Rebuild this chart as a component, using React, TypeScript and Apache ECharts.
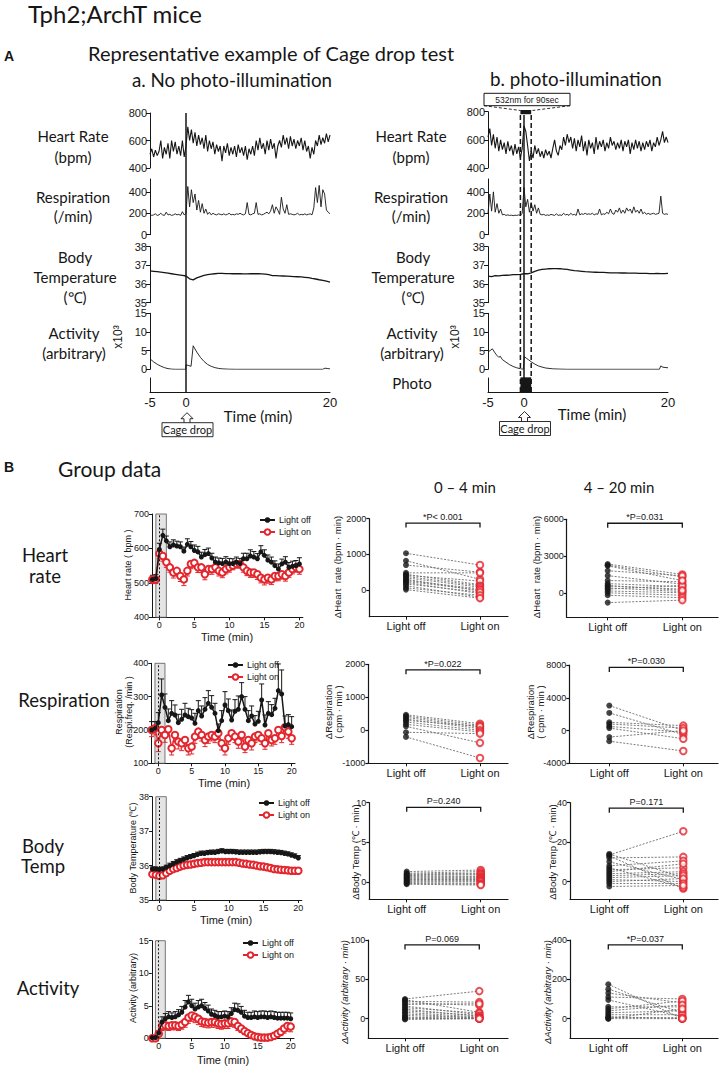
import React, { useEffect, useRef } from "react";
import * as echarts from "echarts";

// ---------------- Panel A : representative traces ----------------
const TRACE_START = -5; // min
const FAST_STEP = 0.25; // min between samples of HR / respiration
const SLOW_STEP = 0.5; // min between samples of temperature
const HR_NOLIGHT = [
  500, 540, 480, 530, 490, 520, 600, 470, 550, 500,
  580, 470, 600, 520, 590, 500, 560, 490, 600, 480,
  560, 700, 600, 680, 580, 660, 560, 640, 570, 620,
  540, 640, 520, 600, 540, 590, 500, 570, 520, 560,
  450, 560, 510, 580, 490, 550, 500, 560, 480, 570,
  510, 550, 490, 560, 460, 540, 500, 560, 490, 600,
  530, 620, 540, 580, 500, 600, 530, 610, 540, 580,
  470, 560, 600, 550, 640, 570, 620, 540, 630, 560,
  610, 540, 600, 560, 620, 530, 600, 520, 560, 470,
  550, 500, 600, 560, 640, 570, 620, 580, 650, 590,
  640,
];
const HR_LIGHT = [
  620, 680, 560, 640, 540, 620, 520, 600, 530, 580,
  500, 590, 520, 560, 490, 570, 500, 550, 470, 540,
  700, 660, 560, 450, 520, 470, 560, 500, 540, 480,
  520, 470, 530, 490, 520, 470, 540, 600, 520, 490,
  560, 530, 620, 560, 640, 580, 620, 540, 610, 520,
  600, 550, 630, 520, 590, 490, 600, 540, 580, 500,
  620, 530, 590, 550, 600, 520, 580, 540, 620, 560,
  590, 530, 580, 540, 600, 520, 590, 550, 600, 500,
  580, 530, 600, 540, 590, 520, 580, 530, 590, 550,
  600, 520, 580, 550, 620, 560, 600, 660, 580, 620,
  580,
];
const RESP_NOLIGHT = [
  190, 180, 185, 195, 180, 185, 200, 185, 180, 210,
  185, 190, 180, 185, 195, 185, 190, 180, 215, 185,
  200, 450, 260, 420, 300, 380, 230, 320, 210, 290,
  200, 240, 190, 210, 185, 200, 190, 185, 195, 190,
  185, 195, 185, 190, 200, 185, 190, 185, 195, 190,
  200, 190, 185, 195, 300, 190, 185, 195, 200, 300,
  190, 195, 185, 190, 200, 210, 195, 220, 280, 200,
  260, 230, 190, 350, 240, 200, 280, 190, 195, 190,
  185, 190, 200, 185, 190, 185, 195, 185, 190, 195,
  185, 250, 440, 300, 460, 260, 420, 380, 230, 210,
  195,
];
const RESP_LIGHT = [
  200, 380, 220, 400, 210, 290, 200, 240, 185, 190,
  180, 185, 180, 182, 178, 182, 180, 185, 180, 200,
  440, 260, 330, 210, 300, 220, 280, 200, 250, 190,
  185, 190, 180, 185, 180, 190, 185, 180, 195, 180,
  185, 180, 200, 185, 190, 180, 200, 185, 190, 180,
  240, 185, 195, 190, 200, 190, 195, 190, 200, 185,
  195, 190, 240, 185, 195, 190, 210, 195, 240, 200,
  190, 230, 210, 250, 200, 230, 200, 250, 220, 240,
  200, 260, 210, 230, 200, 240, 195, 210, 190, 200,
  190, 195, 200, 190, 195, 200, 360, 200, 190, 195,
  190,
];
const TEMP_NOLIGHT = [
  36.7, 36.68, 36.66, 36.64, 36.61, 36.58, 36.55, 36.52, 36.49, 36.46,
  36.43, 36.28, 36.22, 36.33, 36.4, 36.46, 36.5, 36.53, 36.55, 36.57, 36.57,
  36.56, 36.56, 36.55, 36.55, 36.55, 36.54, 36.54, 36.55, 36.55, 36.55,
  36.54, 36.53, 36.5, 36.45, 36.45, 36.44, 36.43, 36.42, 36.41, 36.4,
  36.39, 36.38, 36.36, 36.34, 36.3, 36.27, 36.23, 36.2, 36.15, 36.1,
];
const TEMP_LIGHT = [
  36.42, 36.4, 36.45, 36.44, 36.46, 36.47, 36.48, 36.5, 36.5, 36.52,
  36.55, 36.55, 36.6, 36.68, 36.74, 36.78, 36.8, 36.82, 36.83, 36.83, 36.82,
  36.8, 36.78, 36.75, 36.72, 36.7, 36.68, 36.66, 36.65, 36.64, 36.63,
  36.62, 36.62, 36.61, 36.6, 36.6, 36.6, 36.59, 36.59, 36.58, 36.58,
  36.58, 36.57, 36.57, 36.57, 36.56, 36.56, 36.57, 36.56, 36.56, 36.57,
];
// activity, x10^3, [time (min), value]
const ACT_NOLIGHT = [
  [-5, 2.8], [-4.5, 2.0], [-4, 1.35], [-3.5, 0.85], [-3, 0.45], [-2.5, 0.18], [-2, 0.05], [-1.5, 0],
  [-0.02, 0], [0, 1.2], [0.4, 1.0], [0.7, 0.8], [1.0, 6.3], [1.5, 4.6], [2, 3.2], [2.5, 2.1], [3, 1.3],
  [3.5, 0.8], [4, 0.45], [4.5, 0.25], [5, 0.12], [6, 0.03], [7, 0], [19, 0], [19.3, 0.3], [19.7, 0.2], [20, 0.1],
];
const ACT_LIGHT = [
  [-5, 4.7], [-4.7, 5.0], [-4.4, 5.5], [-4.1, 4.6], [-3.8, 3.8], [-3.5, 3.2], [-3.3, 3.5], [-3, 2.6],
  [-2.5, 1.9], [-2, 1.25], [-1.5, 0.75], [-1, 0.4], [-0.5, 0.15], [-0.1, 0], [0.05, 3.4], [0.3, 3.0],
  [0.6, 2.6], [1, 2.0], [1.5, 1.4], [2, 0.9], [2.5, 0.6], [3, 0.35], [4, 0.12], [5, 0.05], [6, 0],
  [18.8, 0], [19, 0.9], [19.3, 0.55], [20, 0.4],
];
const CAGE_DROP_T = 0;
const PHOTO_WINDOW = [-0.5, 1.0];
const A_X_TICKS = [-5, 0, 20];

// ---------------- Panel B : group time courses ----------------
const TIME = [
  -1, -0.5, 0, 0.5, 1, 1.5, 2, 2.5, 3, 3.5, 4, 4.5, 5, 5.5, 6, 6.5, 7, 7.5, 8, 8.5, 9, 9.5,
  10, 10.5, 11, 11.5, 12, 12.5, 13, 13.5, 14, 14.5, 15, 15.5, 16, 16.5, 17, 17.5, 18, 18.5, 19, 19.5, 20,
];
const HR_OFF = [510, 512, 597, 638, 622, 605, 610, 607, 605, 592, 612, 605, 594, 590, 575, 582, 585, 572, 560, 558, 556, 560, 556, 556, 560, 556, 570, 570, 578, 575, 570, 590, 580, 566, 560, 550, 540, 555, 560, 545, 548, 550, 555];
const HR_OFF_SEM = [12, 12, 18, 18, 14, 14, 15, 14, 14, 12, 16, 15, 16, 16, 14, 15, 16, 14, 15, 14, 15, 16, 15, 14, 15, 15, 16, 16, 18, 16, 15, 18, 16, 15, 15, 14, 15, 14, 16, 14, 15, 15, 18];
const HR_ON = [510, 510, 585, 578, 560, 545, 530, 535, 520, 510, 535, 555, 558, 545, 545, 525, 540, 540, 545, 535, 530, 540, 545, 550, 555, 555, 545, 535, 530, 530, 525, 515, 510, 515, 510, 520, 520, 525, 520, 530, 540, 545, 540];
const HR_ON_SEM = [12, 12, 15, 15, 15, 14, 16, 15, 16, 18, 15, 14, 14, 15, 15, 16, 15, 15, 14, 15, 15, 14, 14, 12, 12, 12, 14, 14, 14, 14, 15, 15, 16, 16, 15, 14, 14, 14, 15, 14, 14, 14, 15];
const RESP_OFF = [200, 205, 222, 305, 268, 228, 250, 245, 222, 232, 245, 240, 236, 220, 258, 242, 262, 280, 268, 250, 198, 228, 275, 258, 230, 256, 262, 300, 262, 228, 242, 218, 226, 290, 215, 250, 246, 265, 318, 308, 212, 216, 210];
const RESP_OFF_SEM = [25, 20, 30, 48, 40, 35, 38, 30, 25, 30, 35, 25, 25, 30, 30, 30, 35, 38, 35, 30, 20, 30, 40, 35, 30, 35, 40, 42, 38, 30, 30, 25, 30, 48, 30, 35, 30, 30, 80, 72, 30, 30, 30];
const RESP_ON = [200, 205, 160, 200, 185, 202, 145, 185, 165, 160, 170, 145, 150, 180, 195, 185, 170, 180, 185, 180, 190, 160, 145, 175, 190, 180, 165, 185, 150, 170, 160, 180, 185, 175, 160, 190, 170, 175, 200, 182, 208, 195, 175];
const RESP_ON_SEM = [20, 20, 25, 20, 22, 20, 20, 20, 22, 22, 20, 20, 22, 20, 20, 18, 20, 20, 18, 18, 18, 20, 20, 18, 18, 18, 20, 18, 18, 18, 20, 18, 18, 18, 18, 18, 18, 18, 20, 20, 20, 20, 18];
const TEMP_OFF = [35.9, 35.9, 35.88, 35.9, 35.95, 36.0, 36.05, 36.1, 36.14, 36.18, 36.22, 36.25, 36.28, 36.32, 36.35, 36.35, 36.37, 36.38, 36.38, 36.4, 36.42, 36.4, 36.4, 36.4, 36.39, 36.38, 36.38, 36.38, 36.38, 36.38, 36.38, 36.39, 36.4, 36.4, 36.4, 36.39, 36.38, 36.37, 36.35, 36.33, 36.3, 36.27, 36.22];
const TEMP_OFF_SEM = [0.06, 0.06, 0.06, 0.06, 0.06, 0.07, 0.07, 0.07, 0.07, 0.07, 0.07, 0.07, 0.07, 0.07, 0.07, 0.07, 0.07, 0.07, 0.07, 0.07, 0.07, 0.07, 0.07, 0.07, 0.07, 0.07, 0.07, 0.07, 0.07, 0.07, 0.07, 0.07, 0.07, 0.07, 0.07, 0.07, 0.07, 0.07, 0.07, 0.07, 0.07, 0.07, 0.07];
const TEMP_ON = [35.75, 35.73, 35.7, 35.72, 35.78, 35.85, 35.9, 35.93, 35.97, 36.0, 36.02, 36.03, 36.05, 36.07, 36.08, 36.1, 36.1, 36.1, 36.1, 36.1, 36.1, 36.1, 36.1, 36.1, 36.1, 36.08, 36.06, 36.05, 36.03, 36.02, 36.0, 35.98, 35.97, 35.95, 35.93, 35.9, 35.89, 35.88, 35.87, 35.86, 35.85, 35.85, 35.85];
const TEMP_ON_SEM = [0.08, 0.08, 0.08, 0.08, 0.08, 0.08, 0.07, 0.07, 0.07, 0.07, 0.07, 0.07, 0.07, 0.07, 0.07, 0.07, 0.07, 0.07, 0.07, 0.07, 0.07, 0.07, 0.07, 0.07, 0.07, 0.07, 0.07, 0.07, 0.07, 0.07, 0.07, 0.07, 0.07, 0.07, 0.07, 0.07, 0.07, 0.07, 0.07, 0.07, 0.07, 0.07, 0.07];
const ACT_OFF = [0.1, 0.1, 0.8, 2.5, 3.0, 3.3, 3.2, 3.3, 3.6, 4.0, 4.8, 5.6, 5.0, 4.5, 4.8, 5.0, 4.6, 4.2, 3.7, 3.5, 3.3, 3.3, 3.4, 3.3, 3.8, 4.4, 4.3, 4.0, 3.4, 3.2, 3.2, 3.3, 3.2, 3.3, 3.3, 3.2, 3.3, 3.2, 3.1, 3.1, 3.1, 3.1, 3.0];
const ACT_OFF_SEM = [0.1, 0.1, 0.3, 0.8, 0.8, 0.8, 0.7, 0.8, 0.8, 0.9, 1.0, 1.0, 1.0, 0.9, 1.0, 1.0, 0.9, 0.9, 0.8, 0.8, 0.8, 0.8, 0.8, 0.8, 0.9, 1.0, 1.0, 0.9, 0.9, 0.8, 0.8, 0.9, 0.9, 0.9, 0.9, 0.9, 0.9, 0.9, 0.9, 0.9, 0.9, 0.9, 0.9];
const ACT_ON = [0.0, 0.0, 0.7, 1.9, 2.0, 1.9, 2.0, 2.0, 1.9, 2.1, 2.5, 3.2, 3.5, 3.3, 3.0, 2.6, 2.5, 2.4, 2.5, 2.5, 2.3, 2.2, 2.3, 2.3, 2.6, 2.5, 1.9, 1.5, 1.1, 0.8, 0.5, 0.3, 0.2, 0.1, 0.1, 0.1, 0.2, 0.4, 0.7, 1.0, 1.5, 1.9, 1.8];
const ACT_ON_SEM = [0.05, 0.05, 0.4, 0.7, 0.7, 0.7, 0.7, 0.7, 0.7, 0.7, 0.8, 0.9, 0.9, 0.9, 0.9, 0.8, 0.8, 0.8, 0.8, 0.8, 0.8, 0.8, 0.8, 0.8, 0.8, 0.8, 0.7, 0.6, 0.5, 0.4, 0.3, 0.2, 0.15, 0.1, 0.1, 0.1, 0.15, 0.3, 0.5, 0.6, 0.7, 0.8, 0.8];
const TC_X_TICKS = [0, 5, 10, 15, 20];

// ---------------- Panel B : paired integrals ----------------
const HR_0_4_OFF = [1030, 820, 700, 480, 440, 410, 380, 340, 300, 270, 240, 210, 170, 120, 60, 10];
const HR_0_4_ON = [700, 300, 500, 480, 150, 250, 120, 80, -30, 30, 0, -100, -60, -200, -150, -230];
const HR_4_20_OFF = [2350, 2250, 1800, 1400, 1000, 750, 550, 400, 300, 150, 0, -200, -800, 2200, 600];
const HR_4_20_ON = [1500, 1300, 1400, 700, 900, 500, 300, 100, 600, 0, -200, -400, -600, 1000, 200];
const RESP_0_4_OFF = [470, 430, 390, 340, 300, 250, 180, 120, -60, -200];
const RESP_0_4_ON = [200, 150, 100, 50, 120, 0, -50, -380, -100, -840];
const RESP_4_20_OFF = [3050, 2150, 1000, 800, 500, 300, -800, -1300];
const RESP_4_20_ON = [0, -500, 600, 300, -200, -1000, 0, -2500];
const TEMP_0_4_OFF = [1.3, 1.1, 1.0, 0.9, 0.8, 0.7, 0.6, 0.5, 0.4, 0.3, 0.2, 0.1, 0.0, -0.1, -0.2, -0.3];
const TEMP_0_4_ON = [1.5, 1.3, 1.1, 1.0, 0.9, 0.7, 0.6, 0.5, 0.4, 0.3, 0.2, 0.1, 0.0, -0.2, -0.3, -0.4];
const TEMP_4_20_OFF = [13.5, 14, 13, 12, 10, 8, 7, 6, 5, 4, 3, 2, 1, 0, -1, -2.5];
const TEMP_4_20_ON = [25.5, 2, -3.5, 12.5, 1, 10.5, -3, 7, 9, 5, 4, 3, 0, 1.5, -1, -2];
const ACT_0_4_OFF = [25, 24, 22, 20, 18, 16, 14, 12, 10, 8, 6, 4, 2, 1, 0, -1];
const ACT_0_4_ON = [35, 8, 21, 17, 19, 5, 7, 3, 4, 2, 1, 1, 0, 0, 0, 0];
const ACT_4_20_OFF = [175, 150, 130, 110, 95, 60, 50, 40, 30, 20, 10, 5, 0, 0];
const ACT_4_20_ON = [0, 30, 80, 100, 10, 60, 90, 70, 40, 20, 0, 5, 0, 50];
const P_LABELS = ["*P< 0.001", "*P=0.031", "*P=0.022", "*P=0.030", "P=0.240", "P=0.171", "P=0.069", "*P=0.037"];
const GROUP_LABELS = ["Light off", "Light on"];

// ---------------- styling ----------------
const INK = "#161616";
const RED = "#e3262d";
const CAL = "Lato, 'Open Sans', sans-serif";
const ARI = "'Liberation Sans', Arial, sans-serif";

const sampled = (vals: number[], t0: number, dt: number) => vals.map((v, i) => [t0 + i * dt, v]);

function txt(x: number, y: number, text: string, size: number, opt: any = {}) {
  return {
    type: "text",
    x,
    y,
    rotation: opt.rotation || 0,
    silent: true,
    z: 50,
    style: {
      text,
      x: 0,
      y: 0,
      fill: opt.color || INK,
      fontSize: size,
      fontFamily: opt.family || CAL,
      fontWeight: opt.weight || "normal",
      fontStyle: opt.style || "normal",
      textAlign: opt.align || "left",
      textVerticalAlign: "middle",
      align: opt.align || "left",
      verticalAlign: "middle",
    },
  };
}

function buildOption() {
  const grid: any[] = [];
  const xAxis: any[] = [];
  const yAxis: any[] = [];
  const series: any[] = [];
  const graphic: any[] = [];

  const addGrid = (g: any, xa: any, ya: any) => {
    const i = grid.length;
    grid.push({ left: g.left, top: g.top, width: g.width, height: g.height });
    xAxis.push({ gridIndex: i, ...xa });
    yAxis.push({ gridIndex: i, ...ya });
    return i;
  };

  const hiddenX = (min: number, max: number) => ({ type: "value", min, max, show: false });
  const hiddenY = (min: number, max: number) => ({ type: "value", min, max, show: false });

  const axisY = (min: number, max: number, ticks: number[], fontSize: number, tickLen: number, lw = 1) => ({
    type: "value",
    min,
    max,
    axisLine: { show: true, onZero: false, lineStyle: { color: INK, width: lw } },
    axisTick: { show: true, length: tickLen, customValues: ticks, lineStyle: { color: INK, width: lw } },
    axisLabel: {
      show: true, customValues: ticks, fontSize, fontFamily: ARI, color: INK, margin: 3,
      formatter: (v: number) => String(v),
    },
    splitLine: { show: false },
  });

  // ======== Panel A ========
  const A_PANELS = [
    { left: 150, hrTop: 113, overlayTop: 113, hr: HR_NOLIGHT, resp: RESP_NOLIGHT, temp: TEMP_NOLIGHT, act: ACT_NOLIGHT, photo: false },
    { left: 488, hrTop: 111.7, overlayTop: 110, hr: HR_LIGHT, resp: RESP_LIGHT, temp: TEMP_LIGHT, act: ACT_LIGHT, photo: true },
  ];
  const A_W = 180;
  A_PANELS.forEach((p) => {
    const rows = [
      { top: p.hrTop, height: 168 - p.hrTop, min: 400, max: 800, ticks: [400, 600, 800], data: sampled(p.hr, TRACE_START, FAST_STEP), lw: 1.1 },
      { top: 179, height: 55.7, min: 0, max: 520, ticks: [0, 200, 400], data: sampled(p.resp, TRACE_START, FAST_STEP), lw: 0.9 },
      { top: 246.7, height: 56, min: 35, max: 38, ticks: [35, 36, 37, 38], data: sampled(p.temp, TRACE_START, SLOW_STEP), lw: 1.3 },
      { top: 313.3, height: 56, min: 0, max: 15, ticks: [0, 5, 10, 15], data: p.act, lw: 0.9 },
    ];
    rows.forEach((r) => {
      const gi = addGrid({ left: p.left, top: r.top, width: A_W, height: r.height }, hiddenX(-5, 20), axisY(r.min, r.max, r.ticks, 11, 4));
      series.push({
        type: "line", xAxisIndex: gi, yAxisIndex: gi, data: r.data, symbol: "none", silent: true,
        lineStyle: { color: INK, width: r.lw }, clip: true,
      });
    });
    // photo strip + time axis
    addGrid(
      { left: p.left, top: 378, width: A_W, height: 14 },
      {
        type: "value", min: -5, max: 20,
        axisLine: { show: true, onZero: false, lineStyle: { color: INK, width: 1 } },
        axisTick: { show: false },
        axisLabel: { show: true, customValues: A_X_TICKS, fontSize: 13, fontFamily: ARI, color: INK, margin: 4 },
        splitLine: { show: false },
      },
      {
        type: "value", min: 0, max: 1,
        axisLine: { show: true, onZero: false, lineStyle: { color: INK, width: 1 } },
        axisTick: { show: false }, axisLabel: { show: false }, splitLine: { show: false },
      }
    );
    // overlay for the vertical markers
    const go = addGrid({ left: p.left, top: p.overlayTop, width: A_W, height: 392 - p.overlayTop }, hiddenX(-5, 20), hiddenY(0, 1));
    series.push({
      type: "line", xAxisIndex: go, yAxisIndex: go, symbol: "none", silent: true,
      data: [[CAGE_DROP_T, 0], [CAGE_DROP_T, p.photo ? 0.982 : 1]],
      lineStyle: { color: INK, width: 1.5 }, z: 5,
    });
    if (p.photo) {
      PHOTO_WINDOW.forEach((t) => {
        series.push({
          type: "line", xAxisIndex: go, yAxisIndex: go, symbol: "none", silent: true,
          data: [[t, 0], [t, 0.985]],
          lineStyle: { color: INK, width: 1.5, type: [5, 3] }, z: 5,
        });
      });
      series.push({
        type: "custom", xAxisIndex: go, yAxisIndex: go, silent: true, z: 6,
        data: [[PHOTO_WINDOW[0], PHOTO_WINDOW[1]]], encode: { x: [0, 1] },
        renderItem: (_: any, api: any) => {
          const x0 = api.value(0), x1 = api.value(1);
          const b0 = api.coord([x0, 0]), b1 = api.coord([x1, 0.052]);
          const t0 = api.coord([x0, 0.985]), t1 = api.coord([x1, 1]);
          return {
            type: "group",
            children: [
              { type: "rect", shape: { x: b0[0], y: b1[1], width: b1[0] - b0[0], height: b0[1] - b1[1] }, style: { fill: INK } },
              { type: "rect", shape: { x: t0[0], y: t1[1], width: t1[0] - t0[0], height: t0[1] - t1[1] }, style: { fill: INK } },
            ],
          };
        },
      });
    }
  });

  // ======== Panel B time courses ========
  const TC = [
    { left: 152, top: 514, width: 150.9, height: 103.3, min: 400, max: 700, ticks: [400, 500, 600, 700], off: HR_OFF, offE: HR_OFF_SEM, on: HR_ON, onE: HR_ON_SEM, leg: [259, 515.5] },
    { left: 151.3, top: 663.3, width: 143.7, height: 100, min: 100, max: 400, ticks: [100, 200, 300, 400], off: RESP_OFF, offE: RESP_OFF_SEM, on: RESP_ON, onE: RESP_ON_SEM, leg: [227, 660.5] },
    { left: 152, top: 796.7, width: 149.8, height: 103.3, min: 35, max: 38, ticks: [35, 36, 37, 38], off: TEMP_OFF, offE: TEMP_OFF_SEM, on: TEMP_ON, onE: TEMP_ON_SEM, leg: [258, 798.5] },
    { left: 151.8, top: 940.7, width: 142.2, height: 97.6, min: 0, max: 15, ticks: [0, 5, 10, 15], off: ACT_OFF, offE: ACT_OFF_SEM, on: ACT_ON, onE: ACT_ON_SEM, leg: [242, 938.5] },
  ];
  const legends: any[] = [];
  const errSeries = (gi: number, vals: number[], errs: number[], dir: number, color: string) => ({
    type: "custom", xAxisIndex: gi, yAxisIndex: gi, silent: true, z: 2, clip: false,
    data: TIME.map((t, i) => [t, vals[i], errs[i]]), encode: { x: 0, y: 1 },
    renderItem: (_: any, api: any) => {
      const t = api.value(0), v = api.value(1), e = api.value(2);
      const a = api.coord([t, v]);
      const b = api.coord([t, v + dir * e]);
      return {
        type: "group",
        children: [
          { type: "line", shape: { x1: a[0], y1: a[1], x2: b[0], y2: b[1] }, style: { stroke: color, lineWidth: 1 } },
          { type: "line", shape: { x1: b[0] - 2.5, y1: b[1], x2: b[0] + 2.5, y2: b[1] }, style: { stroke: color, lineWidth: 1 } },
        ],
      };
    },
  });
  TC.forEach((r) => {
    const gi = addGrid(
      { left: r.left, top: r.top, width: r.width, height: r.height },
      {
        type: "value", min: -1.05, max: 20.5,
        axisLine: { show: true, onZero: false, lineStyle: { color: INK, width: 1 } },
        axisTick: { show: true, length: 3, customValues: TC_X_TICKS, lineStyle: { color: INK } },
        axisLabel: { show: true, customValues: TC_X_TICKS, fontSize: 9, fontFamily: ARI, color: INK, margin: 3 },
        splitLine: { show: false },
      },
      axisY(r.min, r.max, r.ticks, 9, 3)
    );
    series.push({
      type: "line", xAxisIndex: gi, yAxisIndex: gi, silent: true, z: 1,
      data: [[TIME[0], r.min]], symbol: "none", lineStyle: { opacity: 0 },
      markArea: {
        silent: true,
        itemStyle: { color: "rgba(205,205,205,0.55)", borderColor: "#555", borderWidth: 0.8 },
        data: [[{ xAxis: PHOTO_WINDOW[0] }, { xAxis: PHOTO_WINDOW[1] }]],
      },
      markLine: {
        silent: true, symbol: "none", label: { show: false },
        lineStyle: { color: INK, type: [2, 2], width: 1 },
        data: [{ xAxis: CAGE_DROP_T }],
      },
    });
    series.push(errSeries(gi, r.off, r.offE, 1, INK));
    series.push(errSeries(gi, r.on, r.onE, -1, RED));
    series.push({
      type: "line", name: GROUP_LABELS[0], xAxisIndex: gi, yAxisIndex: gi, silent: true, z: 4,
      data: TIME.map((t, i) => [t, r.off[i]]), symbol: "circle", symbolSize: 5,
      itemStyle: { color: INK }, lineStyle: { color: INK, width: 1.5 },
    });
    series.push({
      type: "line", name: GROUP_LABELS[1], xAxisIndex: gi, yAxisIndex: gi, silent: true, z: 3,
      data: TIME.map((t, i) => [t, r.on[i]]), symbol: "emptyCircle", symbolSize: 6.5,
      itemStyle: { color: RED, borderColor: RED, borderWidth: 1.3 }, lineStyle: { color: RED, width: 1.5 },
    });
    legends.push({
      data: GROUP_LABELS, left: r.leg[0], top: r.leg[1], orient: "vertical", padding: 0,
      itemWidth: 15, itemHeight: 7, itemGap: 3, selectedMode: false,
      textStyle: { fontSize: 9, fontFamily: ARI, color: INK, padding: [0, 0, 0, -1] },
    });
  });

  // ======== Panel B paired scatter ========
  const SC = [
    { axisX: 369.3, offX: 406, onX: 480, end: 508, top: 518.7, bottom: 616.7, min: -750, max: 2000, ticks: [0, 1000, 2000], off: HR_0_4_OFF, on: HR_0_4_ON, br: 1877 },
    { axisX: 566.7, offX: 607.7, onX: 682.3, end: 718, top: 519.3, bottom: 617.3, min: -2000, max: 6000, ticks: [0, 3000, 6000], off: HR_4_20_OFF, on: HR_4_20_ON, br: 5676 },
    { axisX: 368.3, offX: 406, onX: 480, end: 508, top: 664.3, bottom: 763.3, min: -1000, max: 2000, ticks: [-1000, 0, 1000, 2000], off: RESP_0_4_OFF, on: RESP_0_4_ON, br: 1832 },
    { axisX: 569.3, offX: 609.3, onX: 683.3, end: 718, top: 665, bottom: 763.3, min: -4000, max: 8000, ticks: [-4000, 0, 4000, 8000], off: RESP_4_20_OFF, on: RESP_4_20_ON, br: 7706 },
    { axisX: 369.3, offX: 406.7, onX: 480.7, end: 508, top: 802.7, bottom: 899.3, min: -2.2, max: 10, ticks: [0, 5, 10], off: TEMP_0_4_OFF, on: TEMP_0_4_ON, br: 9.42 },
    { axisX: 570, offX: 609.3, onX: 683.3, end: 718, top: 802.7, bottom: 899.3, min: -9, max: 40, ticks: [0, 20, 40], off: TEMP_4_20_OFF, on: TEMP_4_20_ON, br: 37.2 },
    { axisX: 368.3, offX: 405, onX: 479.3, end: 508, top: 940, bottom: 1038.3, min: -25, max: 100, ticks: [0, 50, 100], off: ACT_0_4_OFF, on: ACT_0_4_ON, br: 93.7 },
    { axisX: 570, offX: 608.3, onX: 682.3, end: 718, top: 940, bottom: 1038.3, min: -100, max: 400, ticks: [0, 200, 400], off: ACT_4_20_OFF, on: ACT_4_20_ON, br: 374.7 },
  ];
  SC.forEach((s, k) => {
    const scale = s.onX - s.offX;
    const xmin = (s.axisX - s.offX) / scale;
    const xmax = (s.end - s.offX) / scale;
    const gi = addGrid(
      { left: s.axisX, top: s.top, width: s.end - s.axisX, height: s.bottom - s.top },
      {
        type: "value", min: xmin, max: xmax,
        axisLine: { show: true, onZero: false, lineStyle: { color: INK, width: 1.2 } },
        axisTick: { show: true, length: 3, customValues: [0, 1], lineStyle: { color: INK } },
        axisLabel: {
          show: true, customValues: [0, 1], fontSize: 11, fontFamily: ARI, color: INK, margin: 4,
          formatter: (v: number) => (v < 0.5 ? GROUP_LABELS[0] : GROUP_LABELS[1]),
        },
        splitLine: { show: false },
      },
      axisY(s.min, s.max, s.ticks, 9, 3, 1.2)
    );
    series.push({
      type: "custom", xAxisIndex: gi, yAxisIndex: gi, silent: true, z: 2, clip: false,
      data: s.off.map((v, i) => [0, v, 1, s.on[i]]), encode: { x: [0, 2], y: [1, 3] },
      renderItem: (_: any, api: any) => {
        const a = api.coord([api.value(0), api.value(1)]);
        const b = api.coord([api.value(2), api.value(3)]);
        return { type: "line", shape: { x1: a[0], y1: a[1], x2: b[0], y2: b[1] }, style: { stroke: "#6d6d6d", lineWidth: 0.9, lineDash: [2, 1.5] } };
      },
    });
    series.push({
      type: "scatter", xAxisIndex: gi, yAxisIndex: gi, silent: true, z: 4,
      data: s.off.map((v) => [0, v]), symbol: "circle", symbolSize: 6, itemStyle: { color: INK },
    });
    series.push({
      type: "scatter", xAxisIndex: gi, yAxisIndex: gi, silent: true, z: 4,
      data: s.on.map((v) => [1, v]), symbol: "emptyCircle", symbolSize: 6.5,
      itemStyle: { color: RED, borderColor: RED, borderWidth: 1.3 },
    });
    const label = P_LABELS[k];
    series.push({
      type: "custom", xAxisIndex: gi, yAxisIndex: gi, silent: true, z: 5, clip: false,
      data: [[0, 1, s.br]], encode: { x: [0, 1], y: 2 },
      renderItem: (_: any, api: any) => {
        const a = api.coord([api.value(0), api.value(2)]);
        const b = api.coord([api.value(1), api.value(2)]);
        return {
          type: "group",
          children: [
            { type: "polyline", shape: { points: [[a[0], a[1] + 4.5], [a[0], a[1]], [b[0], b[1]], [b[0], b[1] + 4.5]] }, style: { stroke: INK, lineWidth: 1.3, fill: "none" } },
            {
              type: "text",
              style: {
                text: label, x: (a[0] + b[0]) / 2, y: a[1] - 1.5, fill: INK, fontSize: 9, fontFamily: ARI,
                textAlign: "center", align: "center", textVerticalAlign: "bottom", verticalAlign: "bottom",
              },
            },
          ],
        };
      },
    });
  });

  // ======== texts ========
  graphic.push(txt(28, 13, "Tph2;ArchT mice", 24));
  graphic.push(txt(4, 56, "A", 14, { family: ARI, weight: "bold" }));
  graphic.push(txt(88, 53, "Representative example of Cage drop test", 20));
  graphic.push(txt(132, 79, "a. No photo-illumination", 18.8));
  graphic.push(txt(490, 78, "b. photo-illumination", 18.8));

  const aLabels = (cx: number, right: boolean) => {
    graphic.push(txt(cx, 136, "Heart Rate", 15, { align: "center" }));
    graphic.push(txt(cx, 157, "(bpm)", 15, { align: "center" }));
    graphic.push(txt(cx, 197, "Respiration", 15, { align: "center" }));
    graphic.push(txt(cx, 216, "(/min)", 15, { align: "center" }));
    graphic.push(txt(cx + 2, 257, "Body", 15, { align: "center" }));
    graphic.push(txt(cx + 2, 277, "Temperature", 15, { align: "center" }));
    graphic.push(txt(cx + 2, 297, "(℃)", 15, { align: "center" }));
    graphic.push(txt(cx + 1, 333, "Activity", 15, { align: "center" }));
    graphic.push(txt(cx + 1, 353, "(arbitrary)", 15, { align: "center" }));
    graphic.push(txt(right ? 455 : 118, 337, "x10³", 12, { align: "center", family: ARI, rotation: Math.PI / 2 }));
    if (right) graphic.push(txt(cx + 1, 383, "Photo", 15, { align: "center" }));
  };
  aLabels(73, false);
  aLabels(411, true);

  graphic.push(txt(258, 416, "Time (min)", 15, { align: "center" }));
  graphic.push(txt(592, 413.5, "Time (min)", 15, { align: "center" }));

  const cageDrop = (cx: number, top: number) => {
    graphic.push({
      type: "rect", silent: true, z: 50,
      shape: { x: cx - 25, y: top, width: 51, height: 14 },
      style: { fill: "#fff", stroke: INK, lineWidth: 0.9 },
    });
    graphic.push(txt(cx + 0.5, top + 7, "Cage drop", 11, { align: "center" }));
    graphic.push({
      type: "polyline", silent: true, z: 50,
      shape: { points: [[cx - 3, top], [cx - 3, top - 4], [cx - 6, top - 4], [cx, top - 10], [cx + 6, top - 4], [cx + 3, top - 4], [cx + 3, top]] },
      style: { fill: "none", stroke: INK, lineWidth: 0.9 },
    });
  };
  cageDrop(187, 422.7);
  cageDrop(524.5, 421.5);

  // photo-illumination box
  graphic.push({ type: "rect", silent: true, z: 50, shape: { x: 484, y: 93.3, width: 86, height: 12.4 }, style: { fill: "#fff", stroke: INK, lineWidth: 1 } });
  graphic.push(txt(527, 99.7, "532nm for 90sec", 8.5, { align: "center", family: ARI }));
  graphic.push({ type: "line", silent: true, z: 50, shape: { x1: 484, y1: 105.7, x2: 520.5, y2: 110.5 }, style: { stroke: INK, lineWidth: 0.9, lineDash: [3, 2] } });
  graphic.push({ type: "line", silent: true, z: 50, shape: { x1: 570, y1: 105.7, x2: 532.5, y2: 110.5 }, style: { stroke: INK, lineWidth: 0.9, lineDash: [3, 2] } });

  // Panel B headings
  graphic.push(txt(4, 467, "B", 14, { family: ARI, weight: "bold" }));
  graphic.push(txt(58, 468, "Group data", 21));
  graphic.push(txt(465, 487, "0 – 4 min", 15, { align: "center" }));
  graphic.push(txt(619, 487, "4 – 20 min", 15, { align: "center" }));

  graphic.push(txt(45, 555, "Heart", 18.5, { align: "center" }));
  graphic.push(txt(45, 576, "rate", 18.5, { align: "center" }));
  graphic.push(txt(64, 700, "Respiration", 18.5, { align: "center" }));
  graphic.push(txt(43, 846, "Body", 18.5, { align: "center" }));
  graphic.push(txt(43, 866, "Temp", 18.5, { align: "center" }));
  graphic.push(txt(48, 988, "Activity", 18.5, { align: "center" }));

  // time course axis titles
  const rot = Math.PI / 2;
  graphic.push(txt(128, 565, "Heart rate ( bpm )", 9, { align: "center", family: ARI, rotation: rot }));
  graphic.push(txt(119, 712, "Respiration", 9, { align: "center", family: ARI, rotation: rot }));
  graphic.push(txt(129, 712, "(Respi.freq. /min )", 9, { align: "center", family: ARI, rotation: rot }));
  graphic.push(txt(133, 848, "Body Temperature (℃)", 9, { align: "center", family: ARI, rotation: rot }));
  graphic.push(txt(133, 988, "Activity (arbitrary)", 9, { align: "center", family: ARI, rotation: rot }));
  graphic.push(txt(227, 637, "Time (min)", 11, { align: "center", family: ARI }));
  graphic.push(txt(224, 783, "Time (min)", 11, { align: "center", family: ARI }));
  graphic.push(txt(226, 920, "Time (min)", 11, { align: "center", family: ARI }));
  graphic.push(txt(223, 1060, "Time (min)", 11, { align: "center", family: ARI }));

  // scatter axis titles
  graphic.push(txt(337, 567, "ΔHeart  rate (bpm · min)", 9.5, { align: "center", family: ARI, rotation: rot }));
  graphic.push(txt(536, 567, "ΔHeart  rate (bpm · min)", 9.5, { align: "center", family: ARI, rotation: rot }));
  graphic.push(txt(328, 712, "ΔRespiration", 9.5, { align: "center", family: ARI, rotation: rot }));
  graphic.push(txt(338, 712, "( cpm · min )", 9.5, { align: "center", family: ARI, rotation: rot }));
  graphic.push(txt(530, 712, "ΔRespiration", 9.5, { align: "center", family: ARI, rotation: rot }));
  graphic.push(txt(540, 712, "( cpm · min )", 9.5, { align: "center", family: ARI, rotation: rot }));
  graphic.push(txt(355, 852, "ΔBody Temp (℃ · min)", 9.5, { align: "center", family: ARI, rotation: rot }));
  graphic.push(txt(552, 852, "ΔBody Temp (℃ · min)", 9.5, { align: "center", family: ARI, rotation: rot }));
  graphic.push(txt(344, 992, "ΔActivity (arbitrary · min)", 9.5, { align: "center", family: ARI, rotation: rot, style: "italic" }));
  graphic.push(txt(547, 992, "ΔActivity (arbitrary · min)", 9.5, { align: "center", family: ARI, rotation: rot, style: "italic" }));

  return {
    animation: false,
    backgroundColor: "#fff",
    grid,
    xAxis,
    yAxis,
    series,
    legend: legends,
    graphic: { elements: graphic },
  };
}

export default function App() {
  const ref = useRef<HTMLDivElement>(null);
  useEffect(() => {
    if (!ref.current) return;
    const chart = echarts.init(ref.current, null, { renderer: "svg" });
    chart.setOption(buildOption() as any);
    return () => chart.dispose();
  }, []);
  return (
    <div
      ref={ref}
      style={{ position: "absolute", left: 0, top: 0, width: 725, height: 1068, background: "#fff" }}
    />
  );
}
